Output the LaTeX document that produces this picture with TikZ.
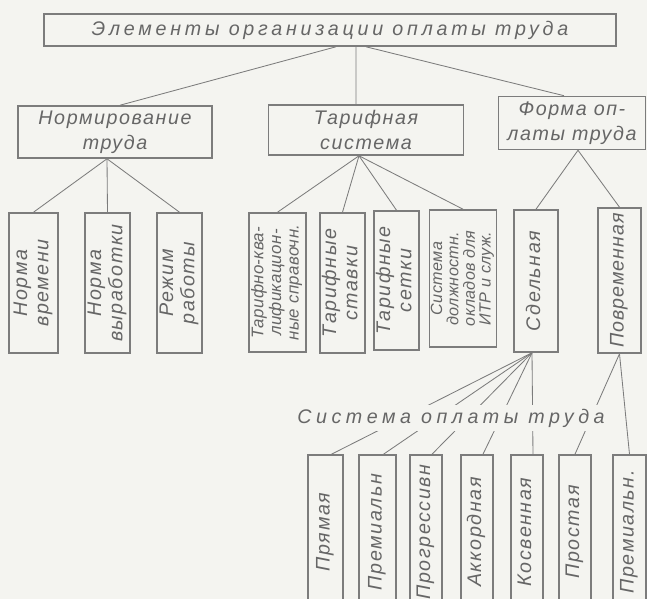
\documentclass[tikz,border=0pt]{standalone}
\usepackage{fontspec}
\usepackage{graphicx}
\newfontfamily\gostfont{Liberation Sans}[LetterSpace=8]
\newcommand{\gost}{\gostfont\itshape\fontsize{14}{15}\selectfont}
\newcommand{\gostwide}{\gostfont\itshape\fontsize{14}{17.5}\selectfont}
\newcommand{\gostsmall}{\fontsize{12}{12.5}\selectfont\addfontfeature{LetterSpace=2}}
% текст, повёрнутый снизу вверх
\newcommand{\vlabel}[1]{\rotatebox{90}{\begin{tabular}{@{}c@{}}#1\end{tabular}}}
\definecolor{paper}{HTML}{F4F4F0}
\definecolor{ink}{HTML}{7C7C7C}
\definecolor{inktext}{HTML}{666666}
\tikzset{
  % рамка блока
  box/.style={draw=ink, line width=1.1pt, inner sep=1pt, align=center,
    text=inktext, font=\gost},
  % линия связи между блоками
  link/.style={draw=ink, line width=0.6pt},
  % подпись без рамки
  caption/.style={fill=paper, inner sep=3pt, text=inktext, font=\gost},
}

\begin{document}
\begin{tikzpicture}[x=0.025cm, y=-0.025cm]
  \fill[paper] (0,0) rectangle (647,599);
  \clip (0,0) rectangle (647,599);
  % верхний уровень
  \node[box, minimum width=14.3cm, minimum height=0.8cm] (top) at (330,30)
    {\addfontfeature{LetterSpace=19}Элементы организации оплаты труда};
  \node[box, minimum width=4.85cm, minimum height=1.3cm, font=\gostwide] (norm) at (115,132)
    {Нормирование\\труда};
  \node[box, minimum width=4.875cm, minimum height=1.25cm, font=\gostwide] (tarif) at (366,130)
    {Тарифная\\система};
  \node[box, minimum width=3.675cm, minimum height=1.325cm, font=\gostwide] (forma) at (572,123)
    {Форма оп-\\латы труда};
  % нормирование
  \node[box, minimum width=1.225cm, minimum height=3.5cm] (nvr) at (33.5,283) {\vlabel{Норма\\времени}};
  \node[box, minimum width=1.125cm, minimum height=3.5cm] (nvy) at (107.5,283) {\vlabel{Норма\\выработки}};
  \node[box, minimum width=1.125cm, minimum height=3.5cm] (rezh) at (179.5,283) {\vlabel{Режим\\работы}};
  % тарифная система
  \node[box, minimum width=1.425cm, minimum height=3.475cm] (tks) at (277.5,282.5)
    {\gostsmall\vlabel{Тарифно-ква-\\лификацион-\\ные справочн.}};
  \node[box, minimum width=1.075cm, minimum height=3.5cm] (tst) at (342.5,283) {\vlabel{Тарифные\\ставки}};
  \node[box, minimum width=1.125cm, minimum height=3.475cm] (tse) at (396.5,280.5) {\vlabel{Тарифные\\сетки}};
  \node[box, minimum width=1.65cm, minimum height=3.425cm] (sdo) at (463,278.5)
    {\fontsize{11.5}{11}\selectfont\addfontfeature{LetterSpace=2}\vlabel{Система\\должностн.\\окладов для\\ИТР и служ.}};
  % форма оплаты
  \node[box, minimum width=1.1cm, minimum height=3.55cm] (sdel) at (536,281) {\vlabel{Сдельная}};
  \node[box, minimum width=1.075cm, minimum height=3.625cm] (povr) at (619.5,280.5)
    {\vlabel{\addfontfeature{LetterSpace=5}Повременная}};
  % системы оплаты
  \foreach \n/\x/\w/\t in {pryam/325.5/0.875/Прямая, prem/377.5/0.925/Премиальн,
      progr/426/0.8/Прогрессивн, akk/477/0.8/Аккордная, kosv/527/0.8/Косвенная,
      prost/575/0.8/Простая, premb/629.5/0.825/Премиальн.}
    \node[box, minimum width=\w cm, minimum height=3.85cm] (\n) at (\x,532) {\vlabel{\t}};
  % связи
  \draw[link] ([xshift=0.15cm]top.south) -- ([xshift=0.125cm]norm.north);
  \draw[link] ([xshift=0.65cm]top.south) -- ([xshift=-0.25cm]tarif.north);
  \draw[link] ([xshift=0.9cm]top.south) -- ([xshift=-0.2cm]forma.north);
  \foreach \b in {nvr,nvy,rezh} \draw[link] ([xshift=-0.2cm]norm.south) -- (\b.north);
  \foreach \b in {tks,tst,tse,sdo} \draw[link] ([xshift=-0.175cm]tarif.south) -- (\b.north);
  \foreach \b in {sdel,povr} \draw[link] ([xshift=0.15cm]forma.south) -- (\b.north);
  \foreach \b in {pryam,prem,progr,akk,kosv} \draw[link] ([xshift=-0.1cm]sdel.south) -- ([xshift=0.15cm]\b.north);
  \foreach \b in {prost,premb} \draw[link] (povr.south) -- (\b.north);
  \node[caption] (sys) at (451,418) {\addfontfeature{LetterSpace=23}Система оплаты труда};
\end{tikzpicture}
\end{document}
